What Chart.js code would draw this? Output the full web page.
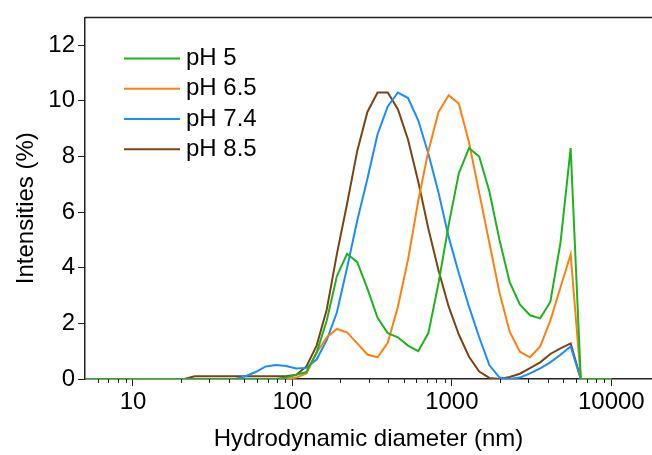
<!DOCTYPE html>
<html><head><meta charset="utf-8">
<script src="https://cdn.jsdelivr.net/npm/chart.js@4/dist/chart.umd.min.js"></script>
<style>html,body{margin:0;padding:0;background:#fff;overflow:hidden}#wrap{width:652px;height:455px;position:relative}</style>
</head><body><div id="wrap"><canvas id="c"></canvas></div>
<script>
// Size bins (nm)
const sizes = [4.849,5.615,6.503,7.531,8.721,10.1,11.7,13.54,15.69,18.17,21.04,24.36,28.21,32.67,37.84,43.82,50.75,58.77,68.06,78.82,91.28,105.7,122.4,141.8,164.2,190.1,220.2,255.0,295.3,342.0,396.1,458.7,531.2,615.1,712.4,825.0,955.4,1106,1281,1484,1718,1990,2305,2669,3091,3580,4145,4801,5560,6439,7456,8635,10000];
const seriesLabels = ['pH 5','pH 6.5','pH 7.4','pH 8.5'];
const ph5  = [0,0,0,0,0,0,0,0,0,0,0,0,0,0,0,0,0,0,0,0,0.05,0.15,0.25,0.95,2.1,3.7,4.5,4.2,3.25,2.2,1.65,1.5,1.2,1.0,1.65,3.45,5.55,7.4,8.3,8.0,6.75,5.0,3.48,2.68,2.29,2.18,2.77,4.9,8.3,0,0,0,0];
const ph65 = [0,0,0,0,0,0,0,0,0,0,0,0,0,0,0,0,0,0,0,0,0,0.05,0.2,0.95,1.5,1.8,1.68,1.28,0.88,0.78,1.3,2.6,4.3,6.4,8.2,9.6,10.2,9.9,8.5,6.7,4.9,3.1,1.7,0.98,0.78,1.17,2.1,3.3,4.48,0,0,0,0];
const ph74 = [0,0,0,0,0,0,0,0,0,0,0,0,0,0,0,0,0.1,0.25,0.45,0.5,0.47,0.38,0.4,0.7,1.4,2.4,4.0,5.7,7.2,8.8,9.8,10.3,10.1,9.3,8.1,6.7,5.1,3.8,2.6,1.5,0.5,0.05,0,0.05,0.2,0.38,0.6,0.87,1.17,0,0,0,0];
const ph85 = [0,0,0,0,0,0,0,0,0,0,0,0.1,0.1,0.1,0.1,0.1,0.1,0.1,0.1,0.1,0.1,0.15,0.45,1.2,2.5,4.5,6.3,8.2,9.6,10.3,10.3,9.7,8.6,7.1,5.4,3.9,2.6,1.6,0.8,0.27,0.04,0,0.07,0.19,0.39,0.6,0.9,1.1,1.28,0,0,0,0];
const colors = ['#1db31d','#ff8010','#1a8cff','#7a4413'];
const xMajorTicks = [10,100,1000,10000];
const yTicks = [0,1,2,3,4,5,6,7,8,9,10,11,12];
const xTitle = 'Hydrodynamic diameter (nm)';
const yTitle = 'Intensities (%)';

const FONT = '"Liberation Sans", Arial, sans-serif';
const FS = 24;
const xTickValues = [];
[6,7,8,9].forEach(v => xTickValues.push(v));
xMajorTicks.forEach(m => { for (let k = 1; k <= 9; k++) { const v = m * k; if (v <= 10000) xTickValues.push(v); } });
const isMajorX = v => xMajorTicks.includes(v);

const series = [ph5, ph65, ph74, ph85];
const datasets = series.map((s, i) => ({
  label: seriesLabels[i],
  data: sizes.map((x, j) => ({x: x, y: s[j]})),
  borderColor: colors[i],
  backgroundColor: colors[i],
  borderWidth: 2,
  pointRadius: 0,
  tension: 0,
  fill: false
}));

const framePlugin = {
  id: 'frame',
  afterDraw(chart) {
    const ctx = chart.ctx, a = chart.chartArea;
    ctx.save();
    ctx.strokeStyle = '#222'; ctx.lineWidth = 1.5;
    ctx.beginPath(); ctx.moveTo(a.left, a.top); ctx.lineTo(a.right, a.top); ctx.stroke();
    ctx.lineWidth = 1;
    const xs = chart.scales.x, ys = chart.scales.y;
    xs.ticks.forEach(t => { if (!t.major) { const p = Math.round(xs.getPixelForValue(t.value)) + 0.5; ctx.beginPath(); ctx.moveTo(p, xs.top); ctx.lineTo(p, xs.top + 4); ctx.stroke(); } });
    ys.ticks.forEach(t => { if (!t.major) { const p = Math.round(ys.getPixelForValue(t.value)) + 0.5; ctx.beginPath(); ctx.moveTo(ys.right, p); ctx.lineTo(ys.right - 4, p); ctx.stroke(); } });
    // y-axis title
    ctx.save();
    ctx.font = FS + 'px ' + FONT; ctx.fillStyle = '#000';
    ctx.textAlign = 'center'; ctx.textBaseline = 'middle';
    ctx.translate(26, (a.top + a.bottom) / 2 + 10);
    ctx.rotate(-Math.PI / 2);
    ctx.fillText(yTitle, 0, 0);
    ctx.restore();
    // legend
    const lx = a.left + 39, ly = a.top + 41, dy = 30.3;
    ctx.font = FS + 'px ' + FONT; ctx.textBaseline = 'middle'; ctx.textAlign = 'left'; ctx.fillStyle = '#000';
    chart.data.datasets.forEach((d, i) => {
      const y = ly + i * dy;
      ctx.strokeStyle = d.borderColor; ctx.lineWidth = 2;
      ctx.beginPath(); ctx.moveTo(lx, y); ctx.lineTo(lx + 56, y); ctx.stroke();
      ctx.fillText(d.label, lx + 62, y);
    });
    ctx.restore();
  }
};

new Chart(document.getElementById('c'), {
  type: 'line',
  data: { datasets },
  plugins: [framePlugin],
  options: {
    responsive: true, maintainAspectRatio: false, animation: false,
    layout: { padding: { top: 14, right: 0, left: 0, bottom: 0 } },
    plugins: { legend: { display: false }, tooltip: { enabled: false } },
    scales: {
      x: {
        type: 'logarithmic', min: 5, max: 18000, position: 'bottom',
        afterBuildTicks(scale) { scale.ticks = xTickValues.map(v => ({ value: v, major: isMajorX(v) })); },
        afterFit(scale) { scale.height = 76; },
        grid: { display: true, drawOnChartArea: false, tickLength: 7, tickWidth: 1,
                tickColor: c => (c.tick && c.tick.major) ? '#222' : 'rgba(0,0,0,0)' },
        border: { display: true, color: '#222', width: 1.5 },
        ticks: { autoSkip: false, maxRotation: 0, minRotation: 0, padding: 2, color: '#000',
                 font: { family: FONT, size: FS },
                 callback: (v) => isMajorX(v) ? String(v) : '' },
        title: { display: true, text: xTitle, color: '#000',
                 font: { family: FONT, size: FS }, padding: { top: 0, bottom: 1 } }
      },
      y: {
        type: 'linear', min: 0, max: 13, position: 'left',
        afterBuildTicks(scale) { scale.ticks = yTicks.map(v => ({ value: v, major: v % 2 === 0 })); },
        afterFit(scale) { scale.width = 85; },
        grid: { display: true, drawOnChartArea: false, tickLength: 7, tickWidth: 1,
                tickColor: c => (c.tick && c.tick.major) ? '#222' : 'rgba(0,0,0,0)' },
        border: { display: true, color: '#222', width: 1.5 },
        ticks: { padding: 3, color: '#000', font: { family: FONT, size: FS },
                 callback: (v) => (v % 2 === 0) ? String(v) : '' },
        title: { display: false }
      }
    }
  }
});
</script></body></html>
